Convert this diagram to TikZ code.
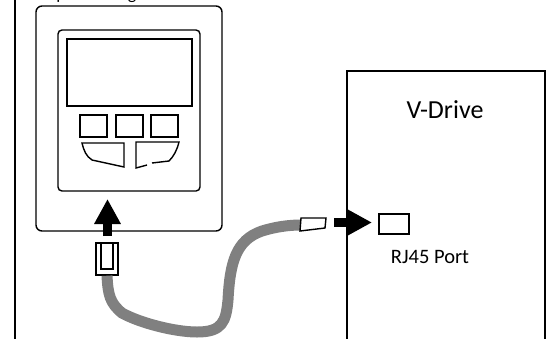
\documentclass[tikz,border=0pt]{standalone}
\usepackage{fontspec}
\usepackage{tikz}
\usetikzlibrary{arrows.meta}
\setmainfont{Carlito}
\definecolor{cablegray}{RGB}{128, 128, 128}
\tikzset{
	boxline/.style={draw=black, line width=1.4pt},
	keybox/.style={boxline, minimum width=27pt, minimum height=22pt, inner sep=0pt},
	cableline/.style={cablegray, line width=11pt},
	blockarrow/.style={line width=9pt, -{Triangle[width=25pt, length=25pt]}},
}

\begin{document}
\begin{tikzpicture}[x=1pt, y=-1pt, font=\fontsize{20.5}{22}\selectfont]
	\useasboundingbox (0,0) rectangle (548,338);
	\clip (0,0) rectangle (548,338);
	% page edge and cut off caption
	\draw[line width=1.8pt] (15,-5) -- (15,343);
	\node[anchor=base, font=\fontsize{18}{20}\selectfont] (captionp) at (61,-0.8) {p};
	\node[anchor=base, font=\fontsize{18}{20}\selectfont] (captiong) at (132,-0.8) {g};
	% keypad
	\draw[boxline, rounded corners=6pt] (36,6) rectangle (222,231);
	\draw[boxline, rounded corners=4pt] (58,30) rectangle (200,191);
	\draw[boxline] (67,39) rectangle (192,106);
	\foreach \i/\x in {1/93.5,2/129.5,3/164.5} {
		\node[keybox] (key\i) at (\x,126) {};
	}
	\draw[boxline] (92,160) .. controls (86,156) and (84,151) .. (82,143) -- (124,143) -- (124,167) -- cycle;
	\draw[boxline] (152,163) -- (169,161) .. controls (174,156) and (177,150) .. (179,142) -- (136,142) -- (136,168) -- (147,165);
	% drive
	\draw[boxline] (347,343) -- (347,71) -- (545,71) -- (545,343);
	\node (drivelabel) at (445,110) {\fontsize{26}{28}\selectfont V-Drive};
	\node[boxline, minimum width=30pt, minimum height=20pt, inner sep=0pt] (port) at (394,224) {};
	\node (portlabel) at (430,257) {RJ45 Port};
	% plugs and cable
	\node[boxline, fill=white, minimum width=22pt, minimum height=32pt, inner sep=0pt] (plugleft) at (107,259) {};
	\coordinate (plugright) at (301,225);
	\draw[cableline] (plugleft.south) .. controls (108,295) and (110,303) .. (122,313) .. controls (140,323) and (175,332) .. (197,332) .. controls (222,332) and (226,322) .. (228,300) .. controls (230,262) and (236,240) .. (262,231) .. controls (275,227) and (288,225) .. (plugright);
	\node[draw=black, line width=1.2pt, minimum width=12pt, minimum height=26pt, inner sep=0pt, anchor=north] (plugtab) at (plugleft.north) {};
	\draw[boxline, fill=white] (plugright |- 0,218) -- (326,218) -- (325,228) -- (300,231) -- cycle;
	% arrows
	\coordinate (arrowup) at (107.5,236);
	\coordinate (arrowright) at (334,222.5);
	\draw[blockarrow] (arrowup) -- (107.5,199);
	\draw[blockarrow] (arrowright) -- (372,222.5);
\end{tikzpicture}
\end{document}
